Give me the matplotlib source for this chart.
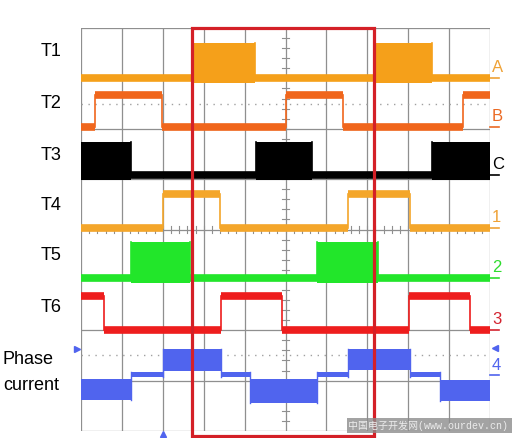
import matplotlib
matplotlib.use("Agg")
import matplotlib.pyplot as plt
from matplotlib.patches import Rectangle
import numpy as np

# Oscilloscope screen: x in divisions (0..10), y in divisions (0..8)
channel_names = ["T1", "T2", "T3", "T4", "T5", "T6"]
channel_colors = ["#F5A01A", "#F0661C", "#000000", "#F4A62A", "#22E62A", "#EE1D1D"]
marker_labels = ["A", "B", "C", "1", "2", "3"]
marker_colors = ["#EFA236", "#EB6A24", "#000000", "#EFA236", "#2EDC2E", "#D3232F"]
low_levels = [7.00, 6.03, 5.08, 4.03, 3.04, 2.00]
high_levels = [7.70, 6.67, 5.73, 4.70, 3.75, 2.68]
is_pwm = [True, False, True, False, True, False]

# switching edges (div) and on/off state of each segment
t1_edges = [0, 2.74, 4.25, 7.19, 8.58, 10]
t1_states = [0, 1, 0, 1, 0]
t2_edges = [0, 0.34, 1.98, 5.01, 6.41, 9.34, 10]
t2_states = [0, 1, 0, 1, 0, 1]
t3_edges = [0, 1.22, 4.28, 5.65, 8.58, 10]
t3_states = [1, 0, 1, 0, 1]
t4_edges = [0, 2.00, 3.40, 6.53, 8.04, 10]
t4_states = [0, 1, 0, 1, 0]
t5_edges = [0, 1.22, 2.67, 5.77, 7.26, 10]
t5_states = [0, 1, 0, 1, 0]
t6_edges = [0, 0.56, 3.42, 4.91, 8.02, 9.51, 10]
t6_states = [1, 0, 1, 0, 1, 0]
all_edges = [t1_edges, t2_edges, t3_edges, t4_edges, t5_edges, t6_edges]
all_states = [t1_states, t2_states, t3_states, t4_states, t5_states, t6_states]

# phase current: segment edges and band (bottom, top) per segment
cur_edges = [0, 1.22, 2.00, 3.42, 4.13, 5.77, 6.53, 8.04, 8.78, 10]
cur_bottom = [0.62, 1.08, 1.20, 1.08, 0.55, 1.08, 1.21, 1.08, 0.60]
cur_top = [1.04, 1.18, 1.62, 1.18, 1.04, 1.18, 1.63, 1.18, 1.02]
cur_color = "#5064EE"

fig = plt.figure(figsize=(5.16, 4.38), dpi=100)
ax = fig.add_axes([81 / 516, 7 / 438, 409 / 516, 403 / 438])
ax.set_xlim(0, 10)
ax.set_ylim(0, 8)
ax.set_axis_off()

grid_c = "#8f8f8f"
for i in range(11):
    ax.plot([i, i], [0, 8], color=grid_c, lw=0.9, zorder=1)
for j in range(9):
    ax.plot([0, 10], [j, j], color=grid_c, lw=0.9, zorder=1)
# centre axes with minor ticks
for t in np.arange(0.2, 10, 0.2):
    ax.plot([t, t], [3.94, 4.06], color=grid_c, lw=0.8, zorder=1)
for v in np.arange(0.2, 8, 0.2):
    ax.plot([4.92, 5.08], [v, v], color=grid_c, lw=0.8, zorder=1)
# dotted reference lines
for yd in [6.5, 1.5]:
    ax.plot([0, 10], [yd, yd], color="#a0a0a0", lw=1.0, ls=(0, (1, 4)), zorder=1)

lw_trace = 5.5
for k in range(6):
    col = channel_colors[k]
    lo, hi = low_levels[k], high_levels[k]
    edges, states = all_edges[k], all_states[k]
    for s in range(len(states)):
        x0, x1 = edges[s], edges[s + 1]
        if states[s] == 0:
            ax.plot([x0, x1], [lo, lo], color=col, lw=lw_trace, solid_capstyle="butt", zorder=3)
        elif is_pwm[k]:
            ax.fill_between([x0, x1], lo - 0.1, hi, color=col, lw=0, zorder=3)
        else:
            ax.plot([x0, x1], [hi, hi], color=col, lw=lw_trace, solid_capstyle="butt", zorder=3)
    for e in edges[1:-1]:
        ax.plot([e, e], [lo, hi], color=col, lw=1.2, zorder=3)

for s in range(len(cur_bottom)):
    x0, x1 = cur_edges[s], cur_edges[s + 1]
    ax.fill_between([x0, x1], cur_bottom[s], cur_top[s], color=cur_color, lw=0, zorder=3)
for s, e in enumerate(cur_edges[1:-1]):
    ax.plot([e, e], [min(cur_bottom[s], cur_bottom[s + 1]), max(cur_top[s], cur_top[s + 1])],
            color=cur_color, lw=1.0, zorder=3)

# red highlight box
ax.add_patch(Rectangle((2.71, -0.1), 4.45, 8.1, fill=False, edgecolor="#D42027",
                       lw=2.3, clip_on=False, zorder=5))

# right-hand channel markers
for k in range(6):
    ax.plot([10.0, 10.22], [low_levels[k], low_levels[k]], color=marker_colors[k], lw=1.2, clip_on=False)
    ax.text(10.05, low_levels[k] + 0.06, marker_labels[k], color=marker_colors[k],
            fontsize=12, family="Liberation Sans", ha="left", va="bottom")
ax.plot([10.0, 10.22], [1.11, 1.11], color=cur_color, lw=1.2, clip_on=False)
ax.text(10.05, 1.15, "4", color=cur_color, fontsize=12, family="Liberation Sans", ha="left", va="bottom")
ax.plot(10.13, 1.65, marker="<", color=cur_color, ms=5, clip_on=False)
ax.plot(-0.1, 1.63, marker=">", color=cur_color, ms=5, clip_on=False)
ax.plot(2.0, -0.05, marker="^", color=cur_color, ms=4, clip_on=False)

# left-hand labels
label_y = [52, 104, 155, 206, 256, 307]
for name, yp in zip(channel_names, label_y):
    fig.text(51 / 516, 1 - yp / 438, name, ha="center", va="center",
             fontsize=13, family="Liberation Sans")
fig.text(3 / 516, 1 - 360 / 438, "Phase", ha="left", va="center", fontsize=13, family="Liberation Sans")
fig.text(3 / 516, 1 - 386 / 438, "current", ha="left", va="center", fontsize=13, family="Liberation Sans")

# watermark
fig.patches.append(Rectangle((347 / 516, 5 / 438), 165 / 516, 15 / 438, transform=fig.transFigure,
                             facecolor="#8c8c8c", alpha=0.8, edgecolor="none", zorder=6))
fig.text(348 / 516, 12.5 / 438, "中国电子开发网(www.ourdev.cn)", color="#ececec", fontsize=7.2,
         family=["Liberation Mono", "Noto Sans CJK SC"], ha="left", va="center", zorder=7)

fig.savefig("out.png", dpi=100)
